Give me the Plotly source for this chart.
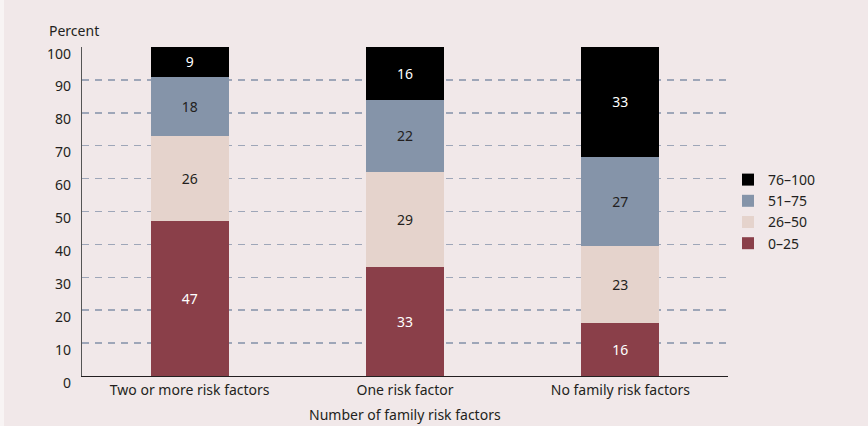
import plotly.graph_objects as go

categories = ["Two or more risk factors", "One risk factor", "No family risk factors"]
series_names = ["0\u201325", "26\u201350", "51\u201375", "76\u2013100"]
values = {
    "0\u201325": [47, 33, 16],
    "26\u201350": [26, 29, 23],
    "51\u201375": [18, 22, 27],
    "76\u2013100": [9, 16, 33],
}
colors = {
    "0\u201325": "#8a3f49",
    "26\u201350": "#e5d3cc",
    "51\u201375": "#8594a9",
    "76\u2013100": "#000000",
}
text_colors = {
    "0\u201325": "#ffffff",
    "26\u201350": "#231f20",
    "51\u201375": "#231f20",
    "76\u2013100": "#ffffff",
}
y_ticks = [0, 10, 20, 30, 40, 50, 60, 70, 80, 90, 100]
y_title = "Percent"
x_title = "Number of family risk factors"

FONT = "Noto Sans"
DARK = "#231f20"
FS = 14

fig = go.Figure()
for name in series_names:
    fig.add_trace(go.Bar(
        x=categories, y=values[name], name=name,
        marker=dict(color=colors[name], line=dict(width=0)),
        text=values[name], texttemplate="%{text}",
        textposition="inside", insidetextanchor="middle",
        textfont=dict(family=FONT, size=FS, color=text_colors[name]),
        hoverinfo="skip",
    ))

for t in y_ticks:
    fig.add_annotation(x=0, xref="paper", y=t, yref="y", text=str(t),
                       showarrow=False, xanchor="right", yanchor="middle",
                       xshift=-9, yshift=-6,
                       font=dict(family=FONT, size=FS, color=DARK))

fig.add_annotation(x=-35/646, xref="paper", y=1 + 16/329, yref="paper", text=y_title,
                   showarrow=False, xanchor="left", yanchor="middle",
                   font=dict(family=FONT, size=FS, color=DARK))

fig.add_annotation(x=0.5, xref="paper", y=-38/329, yref="paper", text=x_title,
                   showarrow=False, xanchor="center", yanchor="middle",
                   font=dict(family=FONT, size=FS, color=DARK))

fig.update_layout(
    width=868, height=426,
    margin=dict(l=82, r=140, t=47, b=50),
    paper_bgcolor="#f1e8e9", plot_bgcolor="#f1e8e9",
    barmode="stack", barnorm="percent", bargap=0.637,
    font=dict(family=FONT, size=FS, color=DARK),
    showlegend=True,
    legend=dict(x=1.0, xanchor="left", y=0.5, yanchor="middle",
                traceorder="reversed", bgcolor="rgba(0,0,0,0)",
                font=dict(family=FONT, size=FS, color=DARK),
                itemwidth=30, tracegroupgap=0),
)
fig.update_xaxes(showline=True, linecolor="#231f20", linewidth=1.2,
                 ticks="", showgrid=False, ticklabelstandoff=1,
                 tickfont=dict(family=FONT, size=FS, color=DARK))
fig.update_yaxes(range=[0, 100], tickvals=y_ticks[1:], showticklabels=False,
                 showgrid=True, gridcolor="#9ea6b8", gridwidth=1.5,
                 griddash="7px,6px", showline=True, linecolor="#555555",
                 linewidth=1.5, zeroline=False, ticks="")

fig.add_shape(type="rect", xref="paper", yref="paper", x0=-82/646, x1=-78/646,
              y0=-50/329, y1=1 + 47/329, fillcolor="#f8f4f4", line=dict(width=0),
              layer="below")

fig.write_html("out.html",
               config={"displayModeBar": False, "staticPlot": True},
               post_script="document.body.style.margin='0';document.body.style.overflow='hidden';")
